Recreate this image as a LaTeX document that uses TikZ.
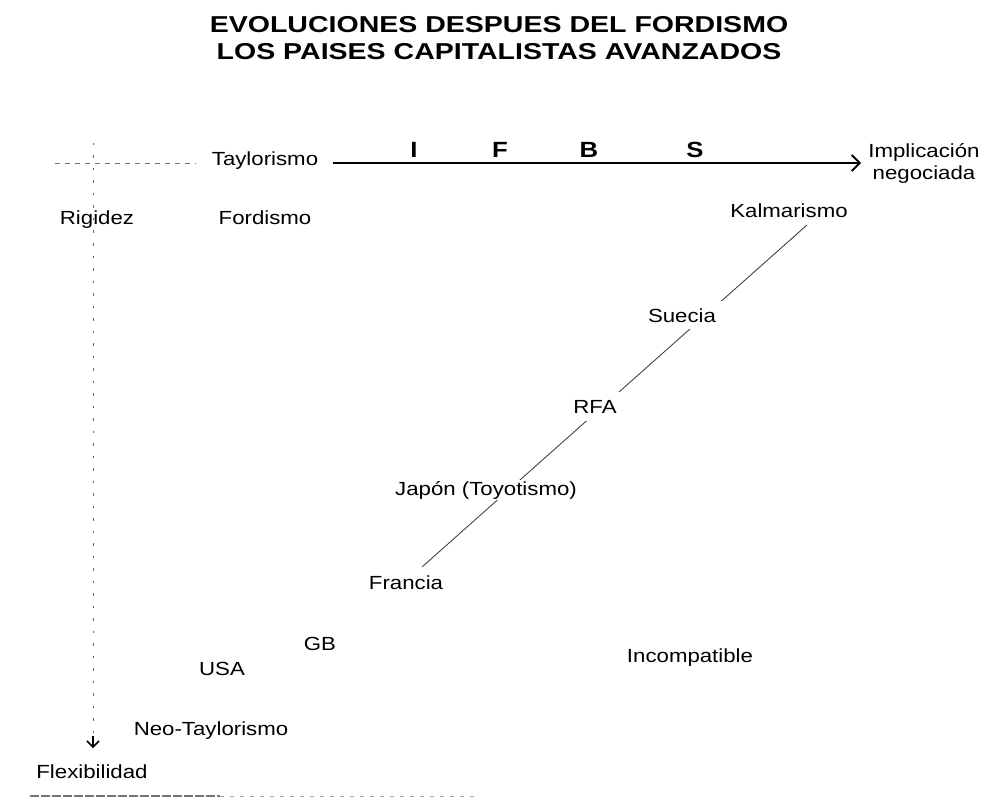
\documentclass[tikz,border=0pt]{standalone}
\usepackage{fontspec}
\setmainfont{Liberation Sans}[FakeStretch=1.17]
\newfontfamily\titlefont{Liberation Sans}[FakeStretch=1.24]
\usetikzlibrary{arrows.meta}
\begin{document}
\begin{tikzpicture}[x=1pt,y=-1pt,
  lbl/.style={font=\fontsize{19}{22}\selectfont, inner sep=0pt, anchor=base},
  cut/.style={lbl, fill=white, inner sep=#1},
  cut/.default=6pt,
  axislbl/.style={font=\fontsize{22}{24}\selectfont\bfseries, inner sep=0pt, anchor=base},
  ttl/.style={font=\titlefont\fontsize{23}{27}\selectfont\bfseries, inner sep=0pt, anchor=base},
  guide/.style={black!55, line width=0.7pt, dash pattern=on 5pt off 5pt},
  vguide/.style={black!60, line width=0.8pt, dash pattern=on 2.5pt off 10pt},
  main/.style={line width=1.8pt, -{Straight Barb[length=8pt,width=16pt,line width=1.8pt]}},
  diag/.style={black!80, line width=0.8pt}
]
\useasboundingbox (0,0) rectangle (992,802);

% title
\node[ttl] (title1) at (499,33) {EVOLUCIONES DESPUES DEL FORDISMO};
\node[ttl] (title2) at (499,60) {LOS PAISES CAPITALISTAS AVANZADOS};

% axes
\coordinate (hstart) at (55,163);
\coordinate (hend) at (196,163);
\draw[guide] (hstart) -- (hend);
\coordinate (vtop) at (93,143);
\coordinate (vbot) at (93,748);
\draw[vguide] (vtop) -- (vbot);
\draw[line width=1.5pt, -{Straight Barb[length=6pt,width=12pt,line width=1.5pt]}] (93,736) -- (vbot);

\node[lbl] (taylor) at (265,166) {Taylorismo};
\coordinate (astart) at (333,163);
\coordinate (aend) at (861,163);
\draw[main] (astart) -- (aend);
\node[axislbl] (I) at (414,158) {I};
\node[axislbl] (F) at (500,158) {F};
\node[axislbl] (B) at (589,158) {B};
\node[axislbl] (S) at (695,158) {S};
\node[lbl] (impl) at (924,158) {Implicación};
\node[lbl] (nego) at (924,180) {negociada};

\node[lbl] (rig) at (97,225) {Rigidez};
\node[lbl] (ford) at (265,225) {Fordismo};
\node[lbl] (kalm) at (789,218) {Kalmarismo};

% diagonal
\coordinate (dlow) at (422,567);
\coordinate (dhigh) at (807,225);
\draw[diag] (dlow) -- (dhigh);

\node[cut=7pt] (suecia) at (682,322) {Suecia};
\node[cut=8pt] (rfa) at (595,413) {RFA};
\node[cut=1pt] (japon) at (486,495) {Japón (Toyotismo)};
\node[lbl] (francia) at (406,589) {Francia};

\node[lbl] (gb) at (320,650) {GB};
\node[lbl] (usa) at (222,675) {USA};
\node[lbl] (incomp) at (690,662) {Incompatible};
\node[lbl] (neo) at (211,735) {Neo-Taylorismo};
\node[lbl] (flex) at (92,778) {Flexibilidad};

% scan edge at the bottom
\coordinate (edgeA) at (30,796);
\coordinate (edgeB) at (220,796);
\coordinate (edgeC) at (480,796);
\draw[black!55, line width=1.4pt, dash pattern=on 9pt off 2pt] (edgeA) -- (edgeB);
\draw[black!35, line width=1pt, dash pattern=on 4pt off 6pt] (edgeB) -- (edgeC);
\end{tikzpicture}
\end{document}
